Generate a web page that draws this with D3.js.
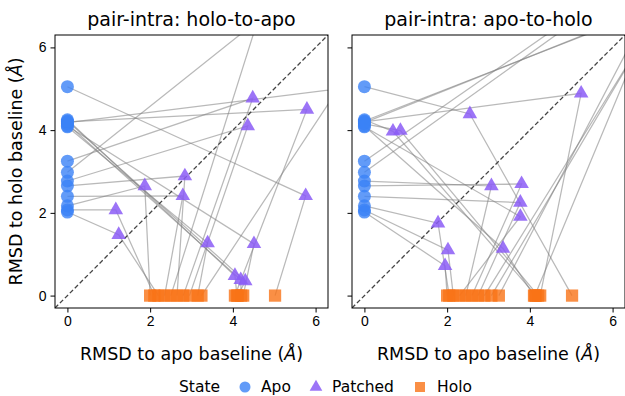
<!DOCTYPE html>
<html>
<head>
<meta charset="utf-8">
<script src="https://cdn.jsdelivr.net/npm/d3@7"></script>
<style>
  body { margin: 0; background: #fff; }
  svg { font-family: "DejaVu Sans", sans-serif; }
</style>
</head>
<body>
<div id="chart"></div>
<script>
// one entry per structure: apo baseline (x=0), patched model, holo baseline (y=0)
const titles = ['pair-intra: holo-to-apo', 'pair-intra: apo-to-holo'];

const apoY_h2a = [5.05, 4.20, 4.25, 4.15, 4.10, 4.08, 2.98, 3.25, 2.77, 2.65, 2.40, 2.17, 2.07, 2.02, 4.18, 4.22];
const patchX_h2a = [5.76, 5.79, 4.05, 4.19, 4.51, 3.39, 4.60, 4.48, 4.36, 2.84, 2.79, 1.87, 1.17, 1.24, 6.55, 4.30];
const patchY_h2a = [2.41, 4.50, 0.48, 0.38, 1.25, 1.27, 6.65, 4.77, 4.10, 2.89, 2.41, 2.65, 2.07, 1.47, 5.00, 0.35];
const holoX_h2a = [5.02, 4.05, 4.10, 4.20, 4.25, 3.15, 2.50, 2.80, 2.95, 2.65, 2.35, 2.00, 2.10, 2.20, 3.24, 4.12];

const apoY_a2h = [5.05, 4.20, 4.22, 3.25, 4.25, 4.15, 4.10, 4.08, 2.77, 2.65, 2.40, 2.17, 2.07, 2.02, 4.18, 2.98];
const patchX_a2h = [2.55, 5.24, 7.24, 7.70, 0.69, 0.87, 3.35, 3.77, 3.07, 3.80, 3.77, 1.78, 2.02, 1.95, 7.30, 7.70];
const patchY_a2h = [4.39, 4.89, 7.04, 8.60, 3.97, 3.99, 1.14, 1.91, 2.65, 2.70, 2.25, 1.75, 1.10, 0.72, 7.10, 8.50];
const holoX_a2h = [5.02, 4.25, 3.07, 4.12, 4.15, 4.20, 4.10, 2.30, 2.45, 2.60, 2.75, 2.05, 2.15, 2.00, 2.90, 3.25];

const ticks = [0, 2, 4, 6];
const colors = { Apo: '#3b82f6', Patched: '#8b5cf6', Holo: '#f97316' };

const width = 625, height = 396;
const plotTop = 35, plotSize = 273;
const panelLefts = [55, 352];

const svg = d3.select('#chart').append('svg')
  .attr('width', width)
  .attr('height', height);

function buildRows(apoY, px, py, hx) {
  return apoY.map((a, i) => ({ apo: a, px: px[i], py: py[i], holo: hx[i] }));
}

const panels = [
  buildRows(apoY_h2a, patchX_h2a, patchY_h2a, holoX_h2a),
  buildRows(apoY_a2h, patchX_a2h, patchY_a2h, holoX_a2h)
];

const triangle = d3.symbol().type(d3.symbolTriangle).size(92);
const square = d3.symbol().type(d3.symbolSquare).size(150);

panels.forEach((rows, p) => {
  const left = panelLefts[p];
  const x = d3.scaleLinear().domain([-0.3, 6.3]).range([left, left + plotSize]);
  const y = d3.scaleLinear().domain([-0.3, 6.3]).range([plotTop + plotSize, plotTop]);

  const clipId = 'clip' + p;
  svg.append('clipPath').attr('id', clipId)
    .append('rect')
    .attr('x', left).attr('y', plotTop)
    .attr('width', plotSize).attr('height', plotSize);

  const g = svg.append('g').attr('clip-path', `url(#${clipId})`);

  // trajectories apo -> patched -> holo
  g.selectAll('path.traj')
    .data(rows)
    .enter()
    .append('path')
    .attr('class', 'traj')
    .attr('d', d => d3.line()([[x(0), y(d.apo)], [x(d.px), y(d.py)], [x(d.holo), y(0)]]))
    .attr('fill', 'none')
    .attr('stroke', '#808080')
    .attr('stroke-opacity', 0.55)
    .attr('stroke-width', 1.25);

  // diagonal
  g.append('line')
    .attr('x1', x(-0.3)).attr('y1', y(-0.3))
    .attr('x2', x(6.3)).attr('y2', y(6.3))
    .attr('stroke', '#444')
    .attr('stroke-width', 1.3)
    .attr('stroke-dasharray', '4.5,2.5');

  g.selectAll('circle.apo')
    .data(rows)
    .enter()
    .append('circle')
    .attr('class', 'apo')
    .attr('cx', x(0))
    .attr('cy', d => y(d.apo))
    .attr('r', 6.5)
    .attr('fill', colors.Apo)
    .attr('fill-opacity', 0.8);

  g.selectAll('path.patched')
    .data(rows)
    .enter()
    .append('path')
    .attr('class', 'patched')
    .attr('transform', d => `translate(${x(d.px)},${y(d.py)})`)
    .attr('d', triangle)
    .attr('fill', colors.Patched)
    .attr('fill-opacity', 0.85);

  g.selectAll('path.holo')
    .data(rows)
    .enter()
    .append('path')
    .attr('class', 'holo')
    .attr('transform', d => `translate(${x(d.holo)},${y(0)})`)
    .attr('d', square)
    .attr('fill', colors.Holo)
    .attr('fill-opacity', 0.8);

  // axes
  const fmt = d3.format('d');
  const xAxis = svg.append('g')
    .attr('transform', `translate(0,${plotTop + plotSize})`)
    .call(d3.axisBottom(x).tickValues(ticks).tickFormat(fmt).tickSize(4.5).tickPadding(4));
  const yAxis = svg.append('g')
    .attr('transform', `translate(${left},0)`)
    .call(d3.axisLeft(y).tickValues(ticks).tickFormat(fmt).tickSize(4.5).tickPadding(4));
  [xAxis, yAxis].forEach(a => {
    a.select('.domain').remove();
    a.selectAll('text').attr('font-size', 14).attr('fill', '#000');
    a.selectAll('line').attr('stroke', '#000');
  });
  if (p === 1) yAxis.selectAll('text').remove();

  svg.append('rect')
    .attr('x', left).attr('y', plotTop)
    .attr('width', plotSize).attr('height', plotSize)
    .attr('fill', 'none')
    .attr('stroke', '#000')
    .attr('stroke-width', 1);

  svg.append('text')
    .attr('x', left + plotSize / 2)
    .attr('y', 26)
    .attr('text-anchor', 'middle')
    .attr('font-size', 19)
    .text(titles[p]);

  const xl = svg.append('text')
    .attr('x', left + plotSize / 2)
    .attr('y', 360)
    .attr('text-anchor', 'middle')
    .attr('font-size', 17.5)
    .text('RMSD to apo baseline (');
  xl.append('tspan').attr('font-style', 'italic').text('Å');
  xl.append('tspan').text(')');
});

// y label
const yl = svg.append('text')
  .attr('transform', `translate(22,${plotTop + plotSize / 2}) rotate(-90)`)
  .attr('text-anchor', 'middle')
  .attr('font-size', 17.5)
  .text('RMSD to holo baseline (');
yl.append('tspan').attr('font-style', 'italic').text('Å');
yl.append('tspan').text(')');

// legend
const legend = svg.append('g').attr('font-size', 15.5);
legend.append('text').attr('x', 179).attr('y', 392).text('State');
const legendPos = [
  { key: 'Apo', mx: 245, tx: 261 },
  { key: 'Patched', mx: 316, tx: 332 },
  { key: 'Holo', mx: 420, tx: 437 }
];
legendPos.forEach(l => {
  const cy = 387;
  if (l.key === 'Apo') {
    legend.append('circle').attr('cx', l.mx).attr('cy', cy).attr('r', 5.5)
      .attr('fill', colors.Apo).attr('fill-opacity', 0.8);
  } else if (l.key === 'Patched') {
    legend.append('path').attr('transform', `translate(${l.mx},${cy})`)
      .attr('d', d3.symbol().type(d3.symbolTriangle).size(70))
      .attr('fill', colors.Patched).attr('fill-opacity', 0.85);
  } else {
    legend.append('path').attr('transform', `translate(${l.mx},${cy})`)
      .attr('d', d3.symbol().type(d3.symbolSquare).size(100))
      .attr('fill', colors.Holo).attr('fill-opacity', 0.8);
  }
  legend.append('text').attr('x', l.tx).attr('y', 392).text(l.key);
});
</script>
</body>
</html>
